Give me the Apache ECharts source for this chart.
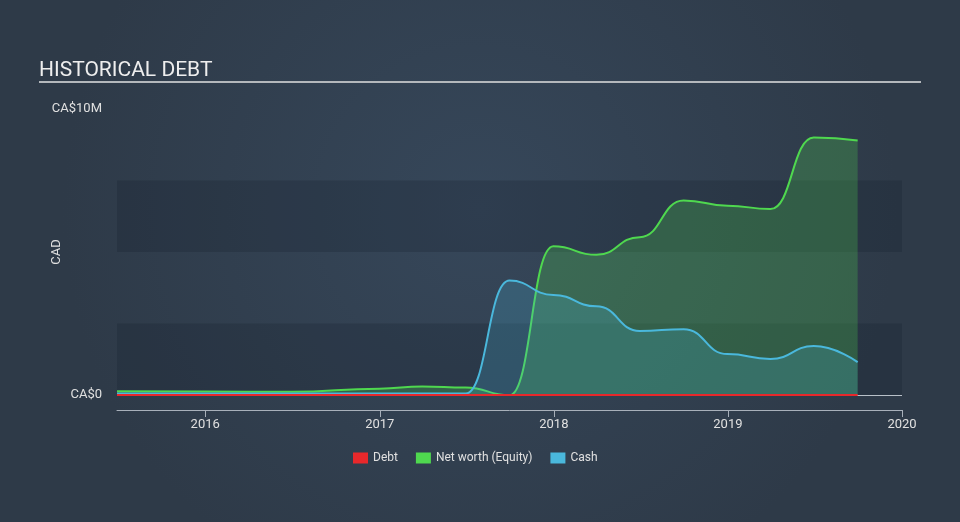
<!DOCTYPE html>
<html>
<head>
<meta charset="utf-8">
<script src="https://cdn.jsdelivr.net/npm/echarts@6/dist/echarts.min.js"></script>
<style>
html,body{margin:0;padding:0;background:#313e4e;}
#c{width:960px;height:522px;}
</style>
</head>
<body>
<div id="c"></div>
<script>
const dates = ['2015-06-30','2015-12-31','2016-06-30','2016-12-31','2017-03-31','2017-06-30','2017-09-30','2017-12-31','2018-03-31','2018-06-30','2018-09-30','2018-12-31','2019-03-31','2019-06-30','2019-09-30'];
const debt   = [0,0,0,0,0,0,0,0,0,0,0,0,0,0,0];
const equity = [0.13,0.12,0.11,0.22,0.3,0.26,-0.01,5.2,4.9,5.52,6.8,6.62,6.5,9.0,8.9];
const cash   = [0.05,0.05,0.05,0.05,0.05,0.05,4.0,3.5,3.1,2.24,2.3,1.43,1.26,1.71,1.15];
const seriesNames = ['Debt','Net worth (Equity)','Cash'];
const colors = ['#e8282b','#4fd84f','#4ab8dc'];
const yTicks = {0:'CA$0', 10000000:'CA$10M'};

const toPairs = arr => dates.map((d,i)=>[d, arr[i]*1e6]);

const chart = echarts.init(document.getElementById('c'), null, {renderer:'canvas'});
chart.setOption({
  backgroundColor: {type:'radial', x:0.5, y:0.4, r:0.8, colorStops:[{offset:0,color:'#36475a'},{offset:1,color:'#2e3a48'}]},
  animation:false,
  title:{text:'HISTORICAL DEBT', left:34, top:55, textStyle:{color:'#eeeeee', fontFamily:'Roboto', fontWeight:'normal', fontSize:21}},
  graphic:[{type:'rect', shape:{x:39,y:81,width:882,height:2}, style:{fill:'#b4b8bc'}, silent:true}],
  legend:{bottom:53, left:348, itemWidth:15, itemHeight:11, itemGap:18, icon:'rect',
    textStyle:{color:'#e0e0e0', fontFamily:'Roboto', fontSize:12}, data:seriesNames},
  grid:{left:117, right:58, top:109, bottom:127},
  xAxis:{type:'time', min:'2015-06-30', max:'2020-01-01', offset:15,
    minInterval:365*86400000, maxInterval:366*86400000,
    axisLine:{show:true, onZero:false, lineStyle:{color:'#a8b0ba', width:1}},
    axisTick:{show:true, length:7, lineStyle:{color:'#a8b0ba'}},
    axisLabel:{color:'#e0e0e0', fontFamily:'Roboto', fontSize:13, margin:8, formatter:'{yyyy}', showMinLabel:false, showMaxLabel:true},
    splitLine:{show:false}},
  yAxis:{type:'value', min:0, max:10000000, interval:2500000,
    name:'CAD', nameLocation:'middle', nameGap:54, nameRotate:90, nameMoveOverlap:false,
    nameTextStyle:{color:'#e0e0e0', fontFamily:'Roboto', fontSize:13},
    axisLine:{show:false}, axisTick:{show:false},
    axisLabel:{color:'#e0e0e0', fontFamily:'Roboto', fontSize:13, margin:15,
      formatter: v => yTicks[v] !== undefined ? yTicks[v] : ''},
    splitLine:{show:false},
    splitArea:{show:true, areaStyle:{color:['rgba(20,28,40,0.22)','rgba(0,0,0,0)']}}},
  series:[
    {name:seriesNames[0], type:'line', data:toPairs(debt), symbol:'none', smooth:0.5, smoothMonotone:'x',
      lineStyle:{color:colors[0], width:2}, itemStyle:{color:colors[0]},
      areaStyle:{color:colors[0], opacity:0.2},
      markLine:{silent:true, symbol:'none', label:{show:false}, z:1, lineStyle:{color:'#b8c0c8', width:1, type:'solid'}, data:[{yAxis:0}]},
      z:5},
    {name:seriesNames[1], type:'line', data:toPairs(equity), symbol:'none', smooth:0.5, smoothMonotone:'x',
      lineStyle:{color:colors[1], width:2}, itemStyle:{color:colors[1]},
      areaStyle:{color:colors[1], opacity:0.25}, z:3},
    {name:seriesNames[2], type:'line', data:toPairs(cash), symbol:'none', smooth:0.5, smoothMonotone:'x',
      lineStyle:{color:colors[2], width:2}, itemStyle:{color:colors[2]},
      areaStyle:{color:colors[2], opacity:0.22}, z:4}
  ]
});
</script>
</body>
</html>
